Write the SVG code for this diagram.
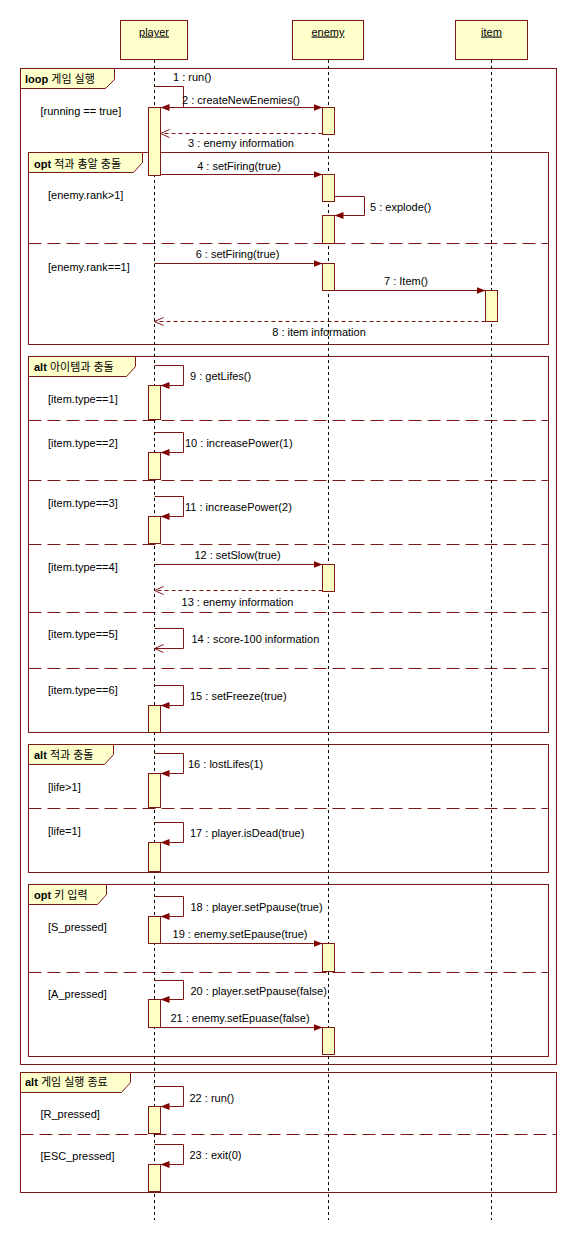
<svg xmlns="http://www.w3.org/2000/svg" width="576" height="1240" viewBox="0 0 576 1240">
<style>
text{font-family:"Liberation Sans","Noto Sans CJK KR",sans-serif;font-size:11px;fill:#000}
.frame{fill:none;stroke:#7f1717;stroke-width:1}
.tab{fill:#ffffcc;stroke:#7f1717;stroke-width:1}
.head{fill:#ffffcc;stroke:#7f1717;stroke-width:1}
.act{fill:#ffffc4;stroke:#7f1717;stroke-width:1}
.life{stroke:#000;stroke-width:1;stroke-dasharray:3 3;fill:none}
.sep{stroke:#7f1717;stroke-width:1;stroke-dasharray:13 6;fill:none}
.msg{stroke:#7f1717;stroke-width:1;fill:none;marker-end:url(#fa)}
.ret{stroke:#7f1717;stroke-width:1;fill:none;stroke-dasharray:4 3;marker-end:url(#oa)}
.selfret{stroke:#7f1717;stroke-width:1;fill:none;marker-end:url(#oa)}
.b{font-weight:bold}
.m{text-anchor:middle}
</style>
<defs>
<marker id="fa" markerUnits="userSpaceOnUse" markerWidth="10" markerHeight="8" refX="9" refY="3.5" orient="auto"><path d="M0,0 L9,3.5 L0,7 z" fill="#7f0000"/></marker>
<marker id="oa" markerUnits="userSpaceOnUse" markerWidth="10" markerHeight="10" refX="9" refY="4" orient="auto"><path d="M0,0 L9,4 L0,8" fill="none" stroke="#7f1717" stroke-width="1"/></marker>
</defs>
<rect width="576" height="1240" fill="#fff"/>

<g id="frame-loop">
<rect class="frame" x="20.5" y="68.5" width="536" height="996"/>
<path class="tab" d="M20.5,68.5 H114.5 V79.5 L105.5,88.5 H20.5 Z"/>
<text x="25" y="83"><tspan class="b">loop</tspan> 게임 실행</text>
<text x="40.5" y="115">[running == true]</text>
</g>

<g id="frame-opt1">
<rect class="frame" x="28.5" y="152.5" width="520" height="192"/>
<path class="tab" d="M28.5,152.5 H142.5 V162.5 L133.5,172.5 H28.5 Z"/>
<text x="34" y="167.5"><tspan class="b">opt</tspan> 적과 총알 충돌</text>
<line class="sep" x1="28.5" y1="243.5" x2="548.5" y2="243.5"/>
<text x="48" y="198.7">[enemy.rank&gt;1]</text>
<text x="48" y="270.7">[enemy.rank==1]</text>
</g>

<g id="frame-alt1">
<rect class="frame" x="28.5" y="356.5" width="520" height="376"/>
<path class="tab" d="M28.5,356.5 H135.5 V366.5 L126.5,376.5 H28.5 Z"/>
<text x="34" y="371"><tspan class="b">alt</tspan> 아이템과 충돌</text>
<line class="sep" x1="28.5" y1="420.5" x2="548.5" y2="420.5"/>
<line class="sep" x1="28.5" y1="480.5" x2="548.5" y2="480.5"/>
<line class="sep" x1="28.5" y1="544.5" x2="548.5" y2="544.5"/>
<line class="sep" x1="28.5" y1="612.5" x2="548.5" y2="612.5"/>
<line class="sep" x1="28.5" y1="668.5" x2="548.5" y2="668.5"/>
<text x="48" y="403">[item.type==1]</text>
<text x="48" y="446.7">[item.type==2]</text>
<text x="48" y="506.5">[item.type==3]</text>
<text x="48" y="570.7">[item.type==4]</text>
<text x="48" y="638.3">[item.type==5]</text>
<text x="48" y="694">[item.type==6]</text>
</g>

<g id="frame-alt2">
<rect class="frame" x="28.5" y="744.5" width="520" height="128"/>
<path class="tab" d="M28.5,744.5 H113.5 V754.5 L104.5,764.5 H28.5 Z"/>
<text x="34" y="759"><tspan class="b">alt</tspan> 적과 충돌</text>
<line class="sep" x1="28.5" y1="808.5" x2="548.5" y2="808.5"/>
<text x="48" y="790.7">[life&gt;1]</text>
<text x="48" y="834.7">[life=1]</text>
</g>

<g id="frame-opt2">
<rect class="frame" x="28.5" y="884.5" width="520" height="172"/>
<path class="tab" d="M28.5,884.5 H106.5 V894.5 L97.5,904.5 H28.5 Z"/>
<text x="34" y="899"><tspan class="b">opt</tspan> 키 입력</text>
<line class="sep" x1="28.5" y1="972.5" x2="548.5" y2="972.5"/>
<text x="48" y="930.7">[S_pressed]</text>
<text x="48" y="998.3">[A_pressed]</text>
</g>

<g id="frame-alt3">
<rect class="frame" x="20.5" y="1072.5" width="536" height="120"/>
<path class="tab" d="M20.5,1072.5 H130.5 V1082.5 L121.5,1092.5 H20.5 Z"/>
<text x="25" y="1086"><tspan class="b">alt</tspan> 게임 실행 종료</text>
<line class="sep" x1="20.5" y1="1134.5" x2="556.5" y2="1134.5"/>
<text x="40.5" y="1118.3">[R_pressed]</text>
<text x="40.5" y="1159.7">[ESC_pressed]</text>
</g>

<g id="player">
<rect class="head" x="120.5" y="20.5" width="67" height="39"/>
<text class="m" x="154" y="35.5" text-decoration="underline">player</text>
<line class="life" x1="154.5" y1="60" x2="154.5" y2="1220"/>
<rect class="act" x="148.5" y="107.5" width="12" height="68"/>
<rect class="act" x="148.5" y="385.5" width="12" height="34"/>
<rect class="act" x="148.5" y="452.5" width="12" height="27"/>
<rect class="act" x="148.5" y="516.5" width="12" height="27"/>
<rect class="act" x="148.5" y="705.5" width="12" height="27"/>
<rect class="act" x="148.5" y="773.5" width="12" height="34"/>
<rect class="act" x="148.5" y="842.5" width="12" height="29"/>
<rect class="act" x="148.5" y="916.5" width="12" height="27"/>
<rect class="act" x="148.5" y="999.5" width="12" height="28"/>
<rect class="act" x="148.5" y="1106.5" width="12" height="27"/>
<rect class="act" x="148.5" y="1164.5" width="12" height="27"/>
</g>

<g id="enemy">
<rect class="head" x="292.5" y="20.5" width="71" height="39"/>
<text class="m" x="328" y="35.5" text-decoration="underline">enemy</text>
<line class="life" x1="328.5" y1="60" x2="328.5" y2="1220"/>
<rect class="act" x="322.5" y="107.5" width="12" height="27"/>
<rect class="act" x="322.5" y="174.5" width="12" height="27"/>
<rect class="act" x="322.5" y="215.5" width="12" height="28"/>
<rect class="act" x="322.5" y="263.5" width="12" height="27"/>
<rect class="act" x="322.5" y="564.5" width="12" height="27"/>
<rect class="act" x="322.5" y="943.5" width="12" height="28"/>
<rect class="act" x="322.5" y="1027.5" width="12" height="27"/>
</g>

<g id="item">
<rect class="head" x="455.5" y="20.5" width="72" height="39"/>
<text class="m" x="491.5" y="35.5" text-decoration="underline">item</text>
<line class="life" x1="491.5" y1="60" x2="491.5" y2="1220"/>
<rect class="act" x="485.5" y="290.5" width="12" height="31"/>
</g>

<g id="connectors">
<path class="msg" d="M154.5,86.5 H183.5 V107.5 H160.5"/>
<text x="173" y="81">1 : run()</text>
<path class="msg" d="M160.5,107.5 H322.5"/>
<text class="m" x="241" y="104">2 : createNewEnemies()</text>
<path class="ret" d="M322.5,133.5 H160.5"/>
<text class="m" x="241" y="147">3 : enemy information</text>
<path class="msg" d="M160.5,174.5 H322.5"/>
<text class="m" x="239" y="170">4 : setFiring(true)</text>
<path class="msg" d="M334.5,196.5 H364.5 V215.5 H334.5"/>
<text x="370" y="211">5 : explode()</text>
<path class="msg" d="M154.5,263.5 H322.5"/>
<text class="m" x="237.5" y="258">6 : setFiring(true)</text>
<path class="msg" d="M334.5,290.5 H485.5"/>
<text class="m" x="406" y="284.7">7 : Item()</text>
<path class="ret" d="M485.5,321.5 H154.5"/>
<text class="m" x="319" y="336">8 : item information</text>
<path class="msg" d="M154.5,365.5 H183.5 V385.5 H160.5"/>
<text x="190" y="380">9 : getLifes()</text>
<path class="msg" d="M154.5,432.5 H183.5 V452.5 H160.5"/>
<text x="185" y="447.3">10 : increasePower(1)</text>
<path class="msg" d="M154.5,496.5 H183.5 V516.5 H160.5"/>
<text x="185" y="511.3">11 : increasePower(2)</text>
<path class="msg" d="M154.5,564.5 H322.5"/>
<text class="m" x="237.5" y="559">12 : setSlow(true)</text>
<path class="ret" d="M322.5,590.5 H154.5"/>
<text class="m" x="237.5" y="606">13 : enemy information</text>
<path class="selfret" d="M154.5,628.5 H183.5 V648.5 H154.5"/>
<text x="191.5" y="643.3">14 : score-100 information</text>
<path class="msg" d="M154.5,685.5 H183.5 V705.5 H160.5"/>
<text x="190" y="700">15 : setFreeze(true)</text>
<path class="msg" d="M154.5,753.5 H183.5 V773.5 H160.5"/>
<text x="188" y="768">16 : lostLifes(1)</text>
<path class="msg" d="M154.5,822.5 H183.5 V842.5 H160.5"/>
<text x="190" y="837.3">17 : player.isDead(true)</text>
<path class="msg" d="M154.5,896.5 H183.5 V916.5 H160.5"/>
<text x="190.5" y="910.7">18 : player.setPpause(true)</text>
<path class="msg" d="M160.5,943.5 H322.5"/>
<text class="m" x="240" y="938">19 : enemy.setEpause(true)</text>
<path class="msg" d="M154.5,980.5 H183.5 V999.5 H160.5"/>
<text x="190.5" y="995">20 : player.setPpause(false)</text>
<path class="msg" d="M160.5,1027.5 H322.5"/>
<text class="m" x="240" y="1021.7">21 : enemy.setEpuase(false)</text>
<path class="msg" d="M154.5,1086.5 H183.5 V1106.5 H160.5"/>
<text x="189.5" y="1101.7">22 : run()</text>
<path class="msg" d="M154.5,1144.5 H183.5 V1164.5 H160.5"/>
<text x="189.5" y="1159">23 : exit(0)</text>
</g>
</svg>
